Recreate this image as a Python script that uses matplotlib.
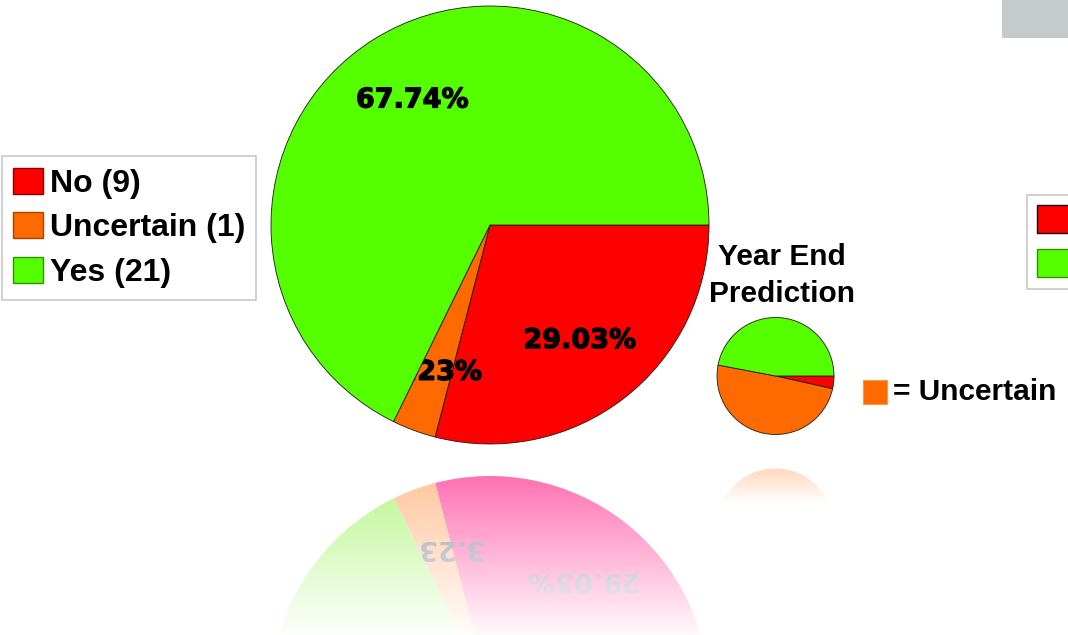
import numpy as np
import matplotlib
matplotlib.use("Agg")
import matplotlib.pyplot as plt
import matplotlib.patheffects as pe
from matplotlib.patches import Rectangle, Patch

W, H = 1068, 635

# Survey answers and their counts
categories = ["No", "Uncertain", "Yes"]
counts = [9, 1, 21]
# Year-end prediction split (percent), same category order
year_end_share = [3.5, 49.5, 47.0]
prediction_title = ["Year End", "Prediction"]
prediction_key = "= Uncertain"

colors = ["#ff0000", "#ff6a00", "#55ff00"]
key_edges = ["#8a0000", "#a84400", "#2f9400"]
mirror_colors = ["#ff6cb0", "#ffc49a", "#b8f78c"]

LABEL_FONT = dict(family="DejaVu Sans", fontweight="bold")
NARROW_FONT = dict(family="Liberation Sans", fontweight="bold")

fig = plt.figure(figsize=(W / 100, H / 100), dpi=100)
ax = fig.add_axes([0, 0, 1, 1])


def Y(y):
    """Convert a top-down pixel row to data y."""
    return H - y


def mid_angle(w):
    return np.deg2rad((w.theta1 + w.theta2) / 2)


# ---- main pie -------------------------------------------------------------
main_c = (490, Y(225))
main_r = 219
heavy = [pe.withStroke(linewidth=0.9, foreground="black")]
wedges, _, pcts = ax.pie(
    counts, colors=colors, startangle=0, counterclock=False,
    center=main_c, radius=main_r, autopct="%.2f%%", pctdistance=0.67,
    wedgeprops=dict(edgecolor="#1a1a1a", linewidth=0.6),
    textprops=dict(fontsize=19.5, color="black", path_effects=heavy,
                   **LABEL_FONT),
)
# the thin "Uncertain" label sits a little further out
a = mid_angle(wedges[1])
pcts[1].set_position((main_c[0] + 0.72 * main_r * np.cos(a),
                      main_c[1] + 0.72 * main_r * np.sin(a)))
# the large "Yes" wedge is painted over the small "Uncertain" label
wedges[2].set_zorder(2.5)
pcts[1].set_zorder(2)

# ---- mirrored reflection of the main pie ---------------------------------
refl_c = (490, Y(695))
rw, _, rp = ax.pie(
    counts, colors=mirror_colors, startangle=0, counterclock=True,
    center=refl_c, radius=main_r, autopct="%.2f%%", pctdistance=0.67,
    wedgeprops=dict(linewidth=0),
    textprops=dict(fontsize=19.5, color="#8a92a4", rotation=180,
                   **LABEL_FONT),
)
a = mid_angle(rw[1])
rp[1].set_position((refl_c[0] + 0.72 * main_r * np.cos(a),
                    refl_c[1] + 0.72 * main_r * np.sin(a)))
rw[2].set_zorder(2.5)
rp[1].set_zorder(2)
rp[2].remove()


def fade(x0, x1, y_top, y_bot, alpha_rows, z=4):
    img = np.ones((len(alpha_rows), 1, 4))
    img[:, 0, 3] = alpha_rows
    ax.imshow(img, extent=(x0, x1, Y(y_bot), Y(y_top)), origin="upper",
              aspect="auto", interpolation="bilinear", zorder=z)


rows = np.linspace(0, 1, 256)
fade(265, 715, 474, 636, 0.03 + 0.95 * rows)

# ---- year-end prediction pie ---------------------------------------------
small_c = (775.5, Y(376))
small_r = 58.5
ax.pie(year_end_share, colors=colors, startangle=0, counterclock=False,
       center=small_c, radius=small_r,
       wedgeprops=dict(edgecolor="#1a1a1a", linewidth=0.6))
ax.pie(year_end_share, colors=mirror_colors, startangle=0, counterclock=True,
       center=(775.5, Y(527)), radius=small_r, wedgeprops=dict(linewidth=0))
ys = np.linspace(465, 600, 256)
fade(710, 842, 465, 600, np.clip(0.3 + (ys - 465) / 38 * 0.7, 0, 1))

ax.text(782, Y(265), prediction_title[0], ha="center", va="baseline",
        fontsize=21.5, color="black", **NARROW_FONT)
ax.text(782, Y(302), prediction_title[1], ha="center", va="baseline",
        fontsize=21.5, color="black", **NARROW_FONT)
ax.add_patch(Rectangle((863, Y(404)), 24, 24, facecolor=colors[1],
                       edgecolor="#f49a50", linewidth=0.8))
ax.text(893, Y(400), prediction_key, ha="left", va="baseline",
        fontsize=21.5, color="black", **NARROW_FONT)

# ---- legend for the main pie ---------------------------------------------
handles = [Patch(facecolor=c, edgecolor=e, linewidth=1.0)
           for c, e in zip(colors, key_edges)]
labels = [f"{c} ({n})" for c, n in zip(categories, counts)]
leg = ax.legend(
    handles, labels, loc="upper left",
    bbox_to_anchor=(2 / W, 1 - 156 / H), bbox_transform=fig.transFigure,
    prop=dict(family="Liberation Sans", weight="bold", size=23),
    handlelength=0.93, handleheight=0.88, handletextpad=0.2,
    labelspacing=0.43, borderpad=0.36, borderaxespad=0,
    frameon=True, fancybox=False, edgecolor="#c8c8c8", framealpha=1,
)
leg.get_frame().set_linewidth(1.2)

# ---- partly visible key and header block on the right edge ---------------
ax.add_patch(Rectangle((1027, Y(289)), 60, 94, facecolor="white",
                       edgecolor="#c8c8c8", linewidth=1.2))
ax.add_patch(Rectangle((1037, Y(233)), 40, 28, facecolor=colors[0],
                       edgecolor="#1a0000", linewidth=1.0))
ax.add_patch(Rectangle((1037, Y(277)), 40, 28, facecolor=colors[2],
                       edgecolor=key_edges[2], linewidth=1.0))
ax.add_patch(Rectangle((1002, Y(38)), 70, 42, facecolor="#c5cbcb",
                       edgecolor="none"))

ax.set_xlim(0, W)
ax.set_ylim(0, H)
ax.set_aspect("auto")
ax.axis("off")

fig.savefig("out.png", dpi=100, facecolor="white")
